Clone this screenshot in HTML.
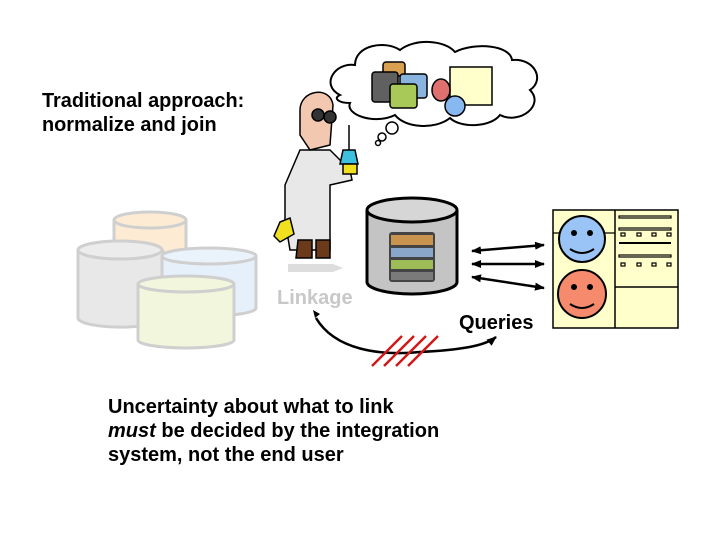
<!DOCTYPE html>
<html><head><meta charset="utf-8"><style>
body{margin:0;background:#fff;}
svg{display:block;font-family:"Liberation Sans",sans-serif;}
</style></head><body>
<svg width="720" height="540" viewBox="0 0 720 540">
<defs>
<marker id="ah" markerWidth="10" markerHeight="8" refX="9" refY="4" orient="auto" markerUnits="userSpaceOnUse"><path d="M0,0 L10,4 L0,8 z" fill="#000"/></marker>
<marker id="ahs" markerWidth="10" markerHeight="8" refX="1" refY="4" orient="auto" markerUnits="userSpaceOnUse"><path d="M10,0 L0,4 L10,8 z" fill="#000"/></marker>
</defs>
<g stroke="#cfcfcf" stroke-width="3">
<path d="M114,220 v30 a36,8 0 0 0 72,0 v-30" fill="#fdebd3"/><ellipse cx="150" cy="220" rx="36" ry="8" fill="#fdebd3"/>
<path d="M78,250 v68 a42,9 0 0 0 85,0 v-68" fill="#e8e8e8"/><ellipse cx="120" cy="250" rx="42" ry="9" fill="#ececec"/>
<path d="M162,256 v52 a47,8 0 0 0 94,0 v-52" fill="#e6f0fb"/><ellipse cx="209" cy="256" rx="47" ry="8" fill="#eaf2fc"/>
<path d="M138,284 v56 a48,8 0 0 0 96,0 v-56" fill="#f1f6dc"/><ellipse cx="186" cy="284" rx="48" ry="8" fill="#f1f6dc"/>
</g>
<path d="M288,264 h45 l10,4 -10,4 h-45z" fill="#ddd"/>
<text x="277" y="304" font-size="20" font-weight="bold" fill="#c8c8c8">Linkage</text>
<path d="M367,210 v72 a45,12 0 0 0 90,0 v-72" fill="#c4c4c4" stroke="#000" stroke-width="3"/>
<ellipse cx="412" cy="210" rx="45" ry="12" fill="#d6d6d6" stroke="#000" stroke-width="3"/>
<rect x="389" y="232" width="46" height="50" rx="3" fill="#444"/>
<rect x="391" y="235" width="42" height="10" fill="#c8944f"/>
<rect x="391" y="248" width="42" height="9" fill="#8aa6c8"/>
<rect x="391" y="260" width="42" height="9" fill="#9dbb56"/>
<rect x="391" y="272" width="42" height="8" fill="#7a7a7a"/>
<g stroke="#000" stroke-width="2.5">
<line x1="472" y1="251" x2="544" y2="245" marker-start="url(#ahs)" marker-end="url(#ah)"/>
<line x1="472" y1="264" x2="544" y2="264" marker-start="url(#ahs)" marker-end="url(#ah)"/>
<line x1="472" y1="277" x2="544" y2="288" marker-start="url(#ahs)" marker-end="url(#ah)"/>
</g>
<rect x="553" y="210" width="125" height="118" fill="#ffffcc" stroke="#000" stroke-width="1.5"/>
<line x1="615" y1="210" x2="615" y2="328" stroke="#000" stroke-width="1.5"/>
<line x1="615" y1="287" x2="678" y2="287" stroke="#000" stroke-width="1.5"/>
<g stroke="#000" stroke-width="1.2" fill="none">
<rect x="619" y="216" width="52" height="2"/><rect x="619" y="228" width="52" height="2"/>
<rect x="619" y="255" width="52" height="2"/><line x1="619" y1="243" x2="671" y2="243" stroke-width="2"/>
<rect x="621" y="233" width="4" height="3"/><rect x="637" y="233" width="4" height="3"/><rect x="652" y="233" width="4" height="3"/><rect x="667" y="233" width="4" height="3"/>
<rect x="621" y="263" width="4" height="3"/><rect x="637" y="263" width="4" height="3"/><rect x="652" y="263" width="4" height="3"/><rect x="667" y="263" width="4" height="3"/>
<line x1="553" y1="233" x2="615" y2="233"/>
</g>
<g stroke="#000" stroke-width="2">
<circle cx="582" cy="239" r="23" fill="#99c4f5"/><circle cx="582" cy="294" r="24" fill="#f58a6c"/>
</g>
<g fill="#000"><circle cx="574" cy="233" r="3"/><circle cx="590" cy="233" r="3"/><circle cx="574" cy="287" r="3"/><circle cx="590" cy="287" r="3"/></g>
<path d="M570,249 q12,8 24,0 M570,304 q12,8 24,0" stroke="#000" stroke-width="2" fill="none"/>
<text x="459" y="329" font-size="20" font-weight="bold" fill="#000">Queries</text>
<path d="M316,318 C335,350 380,356 420,352 C460,350 485,346 496,337" stroke="#000" stroke-width="2.5" fill="none" marker-end="url(#ah)"/>
<path d="M315,318 l-2,-8 7,4z" fill="#000"/>
<g stroke="#d01818" stroke-width="2.5">
<line x1="372" y1="366" x2="402" y2="336"/><line x1="384" y1="366" x2="414" y2="336"/><line x1="396" y1="366" x2="426" y2="336"/><line x1="408" y1="366" x2="438" y2="336"/>
</g>
<path d="M340,95 C320,85 335,62 355,65 C355,45 385,40 400,50 C415,38 445,40 455,52 C475,42 510,45 512,60 C535,58 545,80 530,90 C545,105 520,125 500,115 C490,128 460,128 450,118 C435,130 405,128 395,115 C375,125 345,115 350,103 C338,103 333,98 340,95z" fill="#fff" stroke="#000" stroke-width="2"/>
<circle cx="392" cy="128" r="6" fill="#fff" stroke="#000" stroke-width="1.5"/><circle cx="382" cy="137" r="4" fill="#fff" stroke="#000" stroke-width="1.5"/><circle cx="378" cy="143" r="2.5" fill="#fff" stroke="#000" stroke-width="1.5"/>
<g stroke="#000" stroke-width="1.5">
<rect x="383" y="62" width="22" height="14" rx="3" fill="#d8a050"/>
<rect x="372" y="72" width="26" height="30" rx="3" fill="#606060"/>
<rect x="400" y="74" width="27" height="24" rx="3" fill="#8ab4e0"/>
<rect x="390" y="84" width="27" height="24" rx="3" fill="#a8c858"/>
<rect x="450" y="67" width="42" height="38" fill="#ffffcc"/>
<ellipse cx="441" cy="90" rx="9" ry="11" fill="#e07070"/>
<circle cx="455" cy="106" r="10" fill="#88b8f0"/>
</g>
<g stroke="#000" stroke-width="1.5">
<path d="M285,185 L300,150 L330,150 L350,170 L352,180 L330,185 L330,250 L290,250 L285,220z" fill="#e8e8e8"/>
<path d="M298,240 h14 v18 h-16z M316,240 h14 v18 h-14z" fill="#6b3a1a"/>
<path d="M300,110 C300,90 330,85 333,105 L330,145 L310,150 L300,135z" fill="#f2c8b0"/>
<circle cx="318" cy="115" r="6" fill="#333"/><circle cx="330" cy="117" r="6" fill="#333"/>
<path d="M280,222 l10,-4 l4,16 l-14,8 l-6,-6z" fill="#f0e020"/>
<path d="M343,150 h12 l3,14 h-18z" fill="#40c0e0"/>
<path d="M343,164 h14 v10 h-14z" fill="#f0e020"/>
<line x1="349" y1="125" x2="349" y2="150"/>
</g>
<g font-size="19.9" font-weight="bold" fill="#000">
<text x="42" y="107">Traditional approach:</text>
<text x="42" y="131">normalize and join</text>
</g>
<g font-size="20" font-weight="bold" fill="#000">
<text x="108" y="413">Uncertainty about what to link</text>
<text x="108" y="437"><tspan font-style="italic">must</tspan> be decided by the integration</text>
<text x="108" y="461">system, not the end user</text>
</g>
</svg>
</body></html>
